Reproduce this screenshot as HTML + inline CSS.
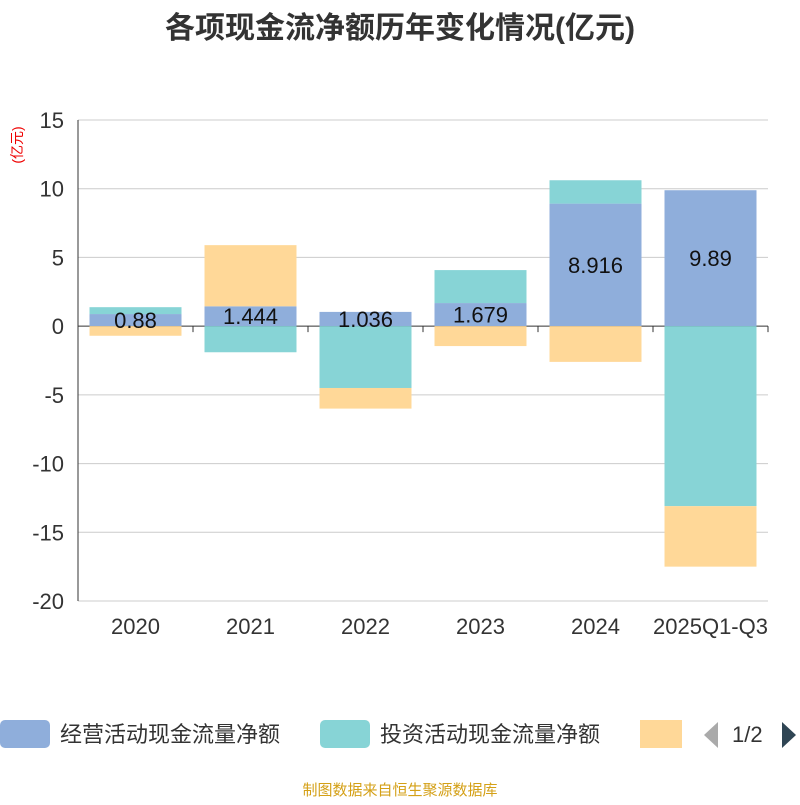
<!DOCTYPE html>
<html><head><meta charset="utf-8"><style>
body{margin:0;background:#fff;font-family:"Liberation Sans","Noto Sans CJK SC",sans-serif;}
svg text{font-family:"Liberation Sans","Noto Sans CJK SC",sans-serif;}
</style></head><body>
<svg id="c" width="800" height="800">
<text x="400" y="38" text-anchor="middle" font-size="30" font-weight="bold" fill="#333">各项现金流净额历年变化情况(亿元)</text>
<text transform="translate(22,145) rotate(-90)" text-anchor="middle" font-size="14" fill="#e00">(亿元)</text>
<g id="grid"></g><g id="bars"></g><g id="axes"></g><g id="labels"></g>
<g>
<rect x="0" y="720" width="50" height="28" rx="5" fill="#8FAEDB"/>
<text x="60" y="742" font-size="22" fill="#333">经营活动现金流量净额</text>
<rect x="320" y="720" width="50" height="28" rx="5" fill="#87D4D6"/>
<text x="380" y="742" font-size="22" fill="#333">投资活动现金流量净额</text>
<rect x="640" y="720" width="42" height="28" fill="#FFD898"/>
<polygon points="718,722 718,748 704,735" fill="#aaa"/>
<text x="732" y="742" font-size="22" fill="#333">1/2</text>
<polygon points="782,722 782,748 796,735" fill="#2f4554"/>
</g>
<text x="400" y="795" text-anchor="middle" font-size="15" fill="#d4a017">制图数据来自恒生聚源数据库</text>
</svg>
<script>
const categories=["2020","2021","2022","2023","2024","2025Q1-Q3"];
const operating=[0.88,1.444,1.036,1.679,8.916,9.89];
const investing=[0.5,-1.9,-4.5,2.4,1.7,-13.1];
const financing=[-0.7,4.45,-1.5,-1.45,-2.6,-4.4];
const yTicks=[15,10,5,0,-5,-10,-15,-20];
const NS="http://www.w3.org/2000/svg";
const x0=78,x1=768,yTop=120,yBot=601,ymax=15,ymin=-20;
const y=v=>yTop+(ymax-v)/(ymax-ymin)*(yBot-yTop);
const bw=(x1-x0)/categories.length;
const xc=i=>x0+bw*(i+0.5);
function mk(tag,attrs,parent,txt){const e=document.createElementNS(NS,tag);for(const k in attrs)e.setAttribute(k,attrs[k]);if(txt!=null)e.textContent=txt;document.getElementById(parent).appendChild(e);return e;}
yTicks.forEach(t=>{
 const l=mk('line',{x1:x0,x2:x1,y1:y(t),y2:y(t),stroke:t===0?'#333':'#ccc','stroke-width':1},'grid');
 
 
 const tx=mk('text',{x:64,y:y(t)+8,'text-anchor':'end','font-size':22,fill:'#333'},'axes',String(t));
 
 
});
const ax=mk('line',{x1:x0,x2:x0,y1:yTop,y2:yBot,stroke:'#333'},'axes');


for(let i=0;i<=categories.length;i++){
 const tk=mk('line',{x1:x0+bw*i,x2:x0+bw*i,y1:y(0),y2:y(0)+6,stroke:'#333'},'axes');
 
 
}
categories.forEach((c,i)=>{
 const t=mk('text',{x:xc(i),y:634,'text-anchor':'middle','font-size':22,fill:'#333'},'axes',c);
 
 
});
const series=[[operating,'#8FAEDB','operating'],[investing,'#87D4D6','investing'],[financing,'#FFD898','financing']];
const w=92;
categories.forEach((c,i)=>{
 let pos=0,neg=0;
 series.forEach(([arr,col,nm])=>{
  const v=arr[i];let a,b;
  if(v>=0){a=pos;b=pos+v;pos=b;}else{a=neg;b=neg+v;neg=b;}
  const r=mk('rect',{x:xc(i)-w/2,y:Math.min(y(a),y(b)),width:w,height:Math.abs(y(a)-y(b)),fill:col},'bars');
  
  
 });
 const v=operating[i];
 const t=mk('text',{x:xc(i),y:y(v/2)+8,'text-anchor':'middle','font-size':22,fill:'#111'},'labels',String(v));
 
 
});
</script>
</body></html>
